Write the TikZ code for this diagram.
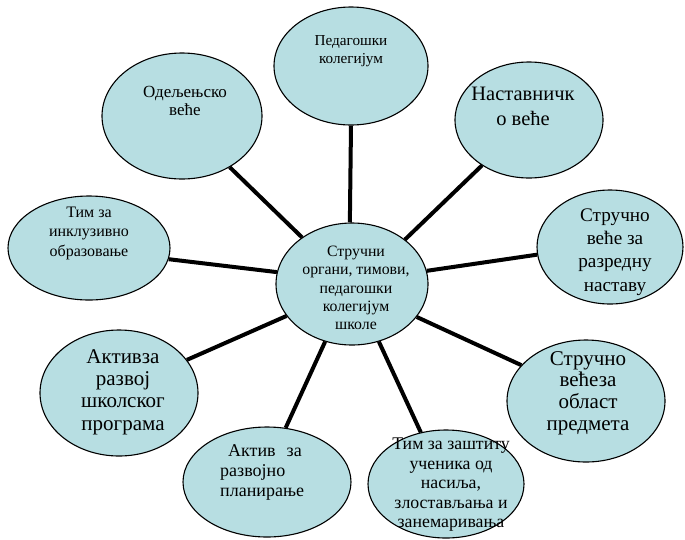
\documentclass[tikz,border=0pt]{standalone}
\usepackage{fontspec}
\setmainfont{Liberation Serif}
\newfontfamily\tnr[Script=Cyrillic]{Liberation Serif}
\usetikzlibrary{shapes.geometric}
\definecolor{bubble}{RGB}{183,222,226}
\tikzset{
  bub/.style={ellipse, draw=black, line width=1.1pt, fill=bubble, inner sep=0pt},
  lbl/.style={align=center, text=black, inner sep=0pt},
  spoke/.style={line width=4pt, black}
}
\newcommand{\fsz}[2]{\tnr\fontsize{#1}{#2}\selectfont}
\begin{document}
\begin{tikzpicture}[x=1pt,y=-1pt]
\useasboundingbox (0,0) rectangle (685,539);
% bubbles
\node[bub, minimum width=154, minimum height=118] (ped)  at (351,66)  {};
\node[bub, minimum width=160, minimum height=126] (odel) at (182,116) {};
\node[bub, minimum width=148, minimum height=116] (nast) at (529,120) {};
\node[bub, minimum width=162, minimum height=104] (inkl) at (89,248)  {};
\node[bub, minimum width=152, minimum height=122] (cent) at (352,284) {};
\node[bub, minimum width=146, minimum height=114] (razr) at (610,247) {};
\node[bub, minimum width=158, minimum height=126] (aktp) at (119,393) {};
\node[bub, minimum width=158, minimum height=122] (obl)  at (586,401) {};
\node[bub, minimum width=168, minimum height=110] (razv) at (267,482) {};
\node[bub, minimum width=156, minimum height=108] (zast) at (446,484) {};
% spokes
\draw[spoke] (cent.92)  -- (ped.270);
\draw[spoke] (cent.137) -- (odel.313);
\draw[spoke] (cent.40)  -- (nast.224);
\draw[spoke] (cent.171) -- (inkl.352);
\draw[spoke] (cent.10)  -- (razr.186);
\draw[spoke] (cent.206) -- (aktp.26);
\draw[spoke] (cent.333) -- (obl.151);
\draw[spoke] (cent.245) -- (razv.71);
\draw[spoke] (cent.295) -- (zast.116);
% labels
\node[lbl, font=\fsz{15.2}{18}]   (tped)  at (351,51)  {Педагошки\\колегијум};
\node[lbl, font=\fsz{17}{18.5}]   (todel) at (185,101) {Одељењско\\веће};
\node[lbl, font=\fsz{20.5}{25}]   (tnast) at (523,106) {Наставничк\\о веће};
\node[lbl, font=\fsz{16}{19.5}]   (tinkl) at (89,233)  {Тим за\\инклузивно\\образовање};
\node[lbl, font=\fsz{15.8}{18.3}] (tcent) at (356,288) {Стручни\\органи, тимови,\\педагошки\\колегијум\\школе};
\node[lbl, font=\fsz{19.2}{23.3}] (trazr) at (615,252) {Стручно\\веће за\\разредну\\наставу};
\node[lbl, font=\fsz{21}{22.3}]   (taktp) at (123,392) {Активза\\развој\\школског\\програма};
\node[lbl, font=\fsz{21}{21.7}]   (tobl)  at (588,393) {Стручно\\већеза\\област\\предмета};
\node[lbl, font=\fsz{18}{20}, align=left, anchor=west] (trazv) at (220,472) {\hspace{8pt}Актив\hspace{11pt}за\\развојно\\планирање};
\node[lbl, font=\fsz{17.8}{19.5}] (tzast) at (451,485) {Тим за заштиту\\ученика од\\насиља,\\злостављања и\\занемаривања};
\end{tikzpicture}
\end{document}
